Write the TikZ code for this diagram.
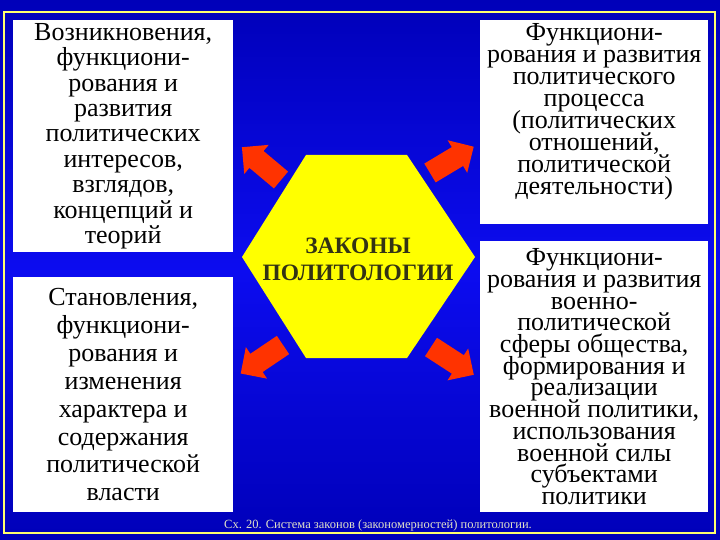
\documentclass[tikz,border=0pt]{standalone}
\usepackage{fontspec}
\setmainfont{Liberation Serif}
\usetikzlibrary{positioning}
\definecolor{navy}{RGB}{0,0,90}
\definecolor{midblue}{RGB}{0,0,185}
\definecolor{brightblue}{RGB}{12,12,240}
\definecolor{frameyellow}{RGB}{255,255,110}
\definecolor{hexyellow}{RGB}{255,255,0}
\definecolor{arrowred}{RGB}{255,51,0}
\definecolor{lawtext}{RGB}{51,51,20}
\definecolor{captext}{RGB}{225,225,200}
\pgfdeclareverticalshading{bgshade}{100bp}{color(0bp)=(navy); color(25bp)=(midblue); color(50bp)=(brightblue); color(75bp)=(midblue); color(100bp)=(navy)}
\tikzset{
  box/.style={fill=white, draw=none, inner sep=0pt, anchor=north west},
  boxtext/.style={align=center, text=black, inner sep=0pt},
  blockarrow/.style={fill=arrowred, draw=none},
}
\newcommand{\boxfont}[1]{\fontsize{26}{#1}\selectfont\lineskiplimit=-20pt}

\begin{document}
\begin{tikzpicture}[x=1pt, y=-1pt]
    \useasboundingbox (0,0) rectangle (720,540);
    % Background and frame
    \shade[shading=bgshade] (0,0) rectangle (720,540);
    \draw[frameyellow, line width=2pt] (4,12) rectangle (715,533);

    % Boxes
    \node[box, minimum width=220, minimum height=232] (tl) at (13,20) {};
    \node[box, minimum width=220, minimum height=235] (bl) at (13,277) {};
    \node[box, minimum width=228, minimum height=204] (tr) at (480,20) {};
    \node[box, minimum width=228, minimum height=271] (br) at (480,241) {};

    \node[boxtext, font=\boxfont{25.4}] (tltext) at (tl.center)
        {Возникновения,\\функциони-\\рования и\\развития\\политических\\интересов,\\взглядов,\\концепций и\\теорий};
    \node[boxtext, font=\boxfont{27.9}] (bltext) at (bl.center)
        {Становления,\\функциони-\\рования и\\изменения\\характера и\\содержания\\политической\\власти};
    \node[boxtext, font=\boxfont{22}, below=3pt of tr.north] (trtext)
        {Функциони-\\рования и развития\\политического\\процесса\\(политических\\отношений,\\политической\\деятельности)};
    \node[boxtext, font=\boxfont{21.7}] (brtext) at (br.center)
        {Функциони-\\рования и развития\\военно-\\политической\\сферы общества,\\формирования и\\реализации\\военной политики,\\использования\\военной силы\\субъектами\\политики};

    % Hexagon
    \fill[hexyellow] (306,155) -- (407,155) -- (475,257) -- (407,358) -- (306,358) -- (242,257) -- cycle;
    \node[font=\bfseries\fontsize{23.5}{27}\selectfont, text=lawtext, align=center] (laws) at (358,259) {ЗАКОНЫ\\ПОЛИТОЛОГИИ};

    % Arrows
    \foreach \px/\py/\ang in {281/180/140, 430/173/31, 283/345/214, 431/347/-33}
        \fill[blockarrow, shift={(\px,\py)}, rotate=\ang] (0,-11) -- (32,-11) -- (32,-19) -- (51,0) -- (32,19) -- (32,11) -- (0,11) -- cycle;

    \node[font=\fontsize{12.5}{14}\selectfont, text=captext] (caption) at (378,525) {Сх. 20. Система законов (закономерностей) политологии.};
\end{tikzpicture}
\end{document}
